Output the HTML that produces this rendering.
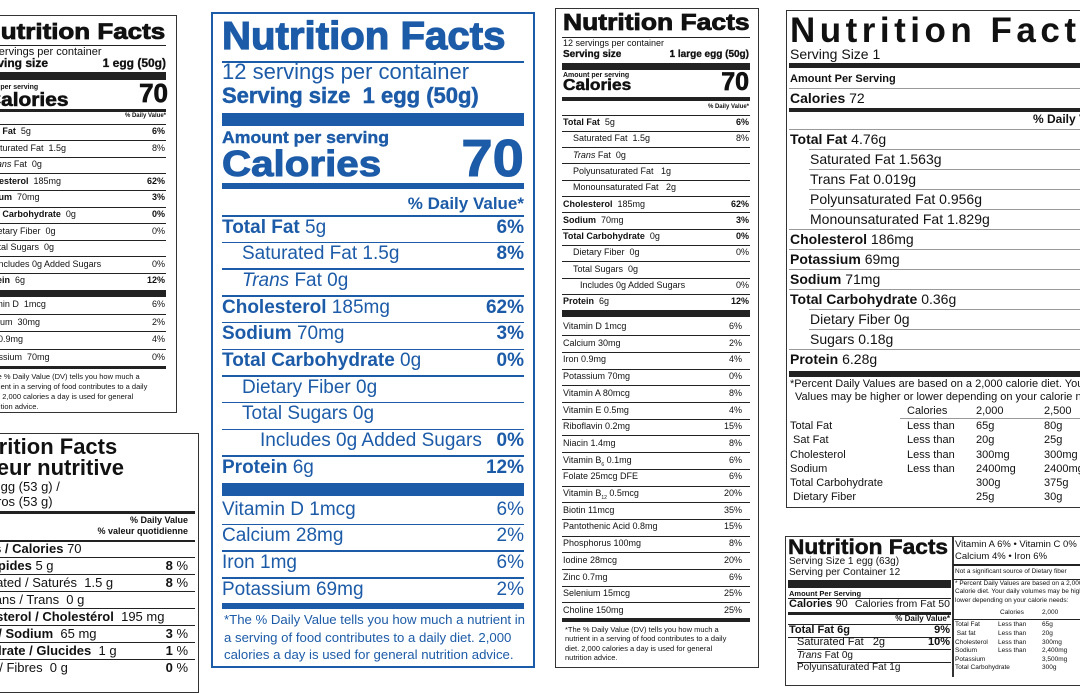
<!DOCTYPE html>
<html><head><meta charset="utf-8">
<style>
html,body{margin:0;padding:0}
body{width:1080px;height:675px;overflow:hidden;background:#fff;position:relative;font-family:"Liberation Sans",Arial,sans-serif;color:#111}
.t{position:absolute;white-space:nowrap;line-height:1}
.l{position:absolute}
.b{position:absolute;border:1.5px solid #333;box-sizing:border-box}
</style></head><body>
<div class="b" style="left:-5px;top:15px;width:182px;height:398px"></div>
<div class="b" style="left:-5px;top:433px;width:204px;height:260px"></div>
<div class="b" style="left:211px;top:12px;width:324px;height:656px;border:2.5px solid #1c5ba8"></div>
<div class="b" style="left:555px;top:8px;width:204px;height:660px"></div>
<div class="b" style="left:786px;top:10px;width:310px;height:498px"></div>
<div class="b" style="left:785px;top:536px;width:310px;height:150px"></div>
<div class="l" style="left:952px;top:537px;width:1.5px;height:140px;background:#333"></div>
<div id="c"></div>
<script>
var c=document.getElementById('c'),h='';
function T(x,y,s,sz,o){o=o||{};var st='top:'+(y-sz*0.55)+'px;font-size:'+sz+'px;';
var org='left';
if(o.r){st+='right:'+(1080-x)+'px;';org='right';}else st+='left:'+x+'px;';
if(o.b)st+='font-weight:bold;';if(o.col)st+='color:'+o.col+';';if(o.ls)st+='letter-spacing:'+o.ls+'px;';if(o.i)st+='font-style:italic;';if(o.sx)st+='transform:scaleX('+o.sx+');transform-origin:'+org+';';
if(o.hv)st+='-webkit-text-stroke:'+o.hv+'px currentColor;';
h+='<div class="t" style="'+st+'">'+s+'</div>';}
function L(x1,x2,y,th,col){h+='<div class="l" style="left:'+x1+'px;top:'+y+'px;width:'+(x2-x1)+'px;height:'+th+'px;background:'+(col||'#222')+'"></div>';}
// ===== Blue label
var B='#1c5ba8';
T(222,38,'Nutrition Facts',39,{b:1,col:B,sx:1.03,hv:1.2});
L(222,524,61,1.5,B);
T(222,73,'12 servings per container',22,{col:B});
T(222,97,'Serving size&nbsp; 1 egg (50g)',22,{b:1,col:B,hv:0.5});
L(222,524,113,13,B);
T(222,138,'Amount per serving',17,{b:1,col:B,sx:1.04,hv:0.4});
T(222,166,'Calories',36,{b:1,col:B,sx:1.12,hv:1});
T(524,162,'70',52,{b:1,col:B,r:1,sx:1.08,hv:1});
L(222,524,183,6,B);
T(524,204,'% Daily Value*',17,{b:1,col:B,r:1});
var br=[['<b>Total Fat</b> 5g','6%',0,1],['Saturated Fat 1.5g','8%',20,1],['<i>Trans</i> Fat 0g','',20,0],['<b>Cholesterol</b> 185mg','62%',0,1],['<b>Sodium</b> 70mg','3%',0,1],['<b>Total Carbohydrate</b> 0g','0%',0,1],['Dietary Fiber 0g','',20,0],['Total Sugars 0g','',20,0],['Includes 0g Added Sugars','0%',38,1],['<b>Protein</b> 6g','12%',0,1]];
br.forEach(function(r,i){var y=228+i*26.7;L(222,524,y-13,1.5,B);T(222+r[2],y,r[0],19,{col:B});if(r[1])T(524,y,r[1],19,{b:1,col:B,r:1});});
L(222,524,483,13,B);
[['Vitamin D 1mcg','6%'],['Calcium 28mg','2%'],['Iron 1mg','6%'],['Potassium 69mg','2%']].forEach(function(r,i){var y=510+i*26.7;if(i)L(222,524,y-13,1.5,B);T(222,y,r[0],19,{col:B});T(524,y,r[1],19,{col:B,r:1});});
L(222,524,603,6,B);
T(224,620,'*The % Daily Value tells you how much a nutrient in',13.2,{col:B});
T(224,638,'a serving of food contributes to a daily diet. 2,000',13.2,{col:B});
T(224,655,'calories a day is used for general nutrition advice.',13.2,{col:B});
// ===== Middle label
T(563,24,'Nutrition Facts',23,{b:1,sx:1.15,hv:0.8});
L(562,750,37,1);
T(563,44,'12 servings per container',9);
T(563,55,'Serving size',10,{b:1,hv:0.3});T(749,55,'1 large egg (50g)',10,{b:1,r:1,hv:0.3});
L(562,750,63,7);
T(563,76,'Amount per serving',7,{b:1});
T(563,87,'Calories',16,{b:1,sx:1.08,hv:0.5});T(749,84,'70',25,{b:1,r:1,hv:0.7});
L(562,750,97,3.5);
T(749,107,'% Daily Value*',6,{b:1,r:1});
var mr=[['<b>Total Fat</b>&nbsp; 5g','<b>6%</b>',0],['Saturated Fat&nbsp; 1.5g','8%',10],['<i>Trans</i> Fat&nbsp; 0g','',10],['Polyunsaturated Fat&nbsp;&nbsp; 1g','',10],['Monounsaturated Fat&nbsp;&nbsp; 2g','',10],['<b>Cholesterol</b>&nbsp; 185mg','<b>62%</b>',0],['<b>Sodium</b>&nbsp; 70mg','<b>3%</b>',0],['<b>Total Carbohydrate</b>&nbsp; 0g','<b>0%</b>',0],['Dietary Fiber&nbsp; 0g','0%',10],['Total Sugars&nbsp; 0g','',10],['Includes 0g Added Sugars','0%',17],['<b>Protein</b>&nbsp; 6g','<b>12%</b>',0]];
mr.forEach(function(r,i){var y=123+i*16.3;L(562,750,y-8.5,1);T(563+r[2],y,r[0],9);if(r[1])T(749,y,r[1],9,{r:1});});
L(562,750,310,7);
var vr=[['Vitamin D 1mcg','6%'],['Calcium 30mg','2%'],['Iron 0.9mg','4%'],['Potassium 70mg','0%'],['Vitamin A 80mcg','8%'],['Vitamin E 0.5mg','4%'],['Riboflavin 0.2mg','15%'],['Niacin 1.4mg','8%'],['Vitamin B<sub style="font-size:5px">6</sub> 0.1mg','6%'],['Folate 25mcg DFE','6%'],['Vitamin B<sub style="font-size:5px">12</sub> 0.5mcg','20%'],['Biotin 11mcg','35%'],['Pantothenic Acid 0.8mg','15%'],['Phosphorus 100mg','8%'],['Iodine 28mcg','20%'],['Zinc 0.7mg','6%'],['Selenium 15mcg','25%'],['Choline 150mg','25%']];
vr.forEach(function(r,i){var y=327+i*16.7;if(i)L(562,750,y-8.5,1);T(563,y,r[0],9);T(742,y,r[1],9,{r:1});});
L(562,750,618,4);
['*The % Daily Value (DV) tells you how much a','nutrient in a serving of food contributes to a daily','diet. 2,000 calories a day is used for general','nutrition advice.'].forEach(function(s,i){T(565,630+i*9.5,s,7.5);});
// ===== Left top
T(-18,33,'Nutrition Facts',22,{b:1,sx:1.18,hv:0.8});
L(-10,166,45,1);
T(-22,53,'12 servings per container',11);
T(-22,64,'Serving size',12,{b:1,hv:0.3});T(166,64,'1 egg (50g)',12,{b:1,r:1,hv:0.3});
L(-10,166,72,8);
T(-28,88,'Amount per serving',7,{b:1});
T(-14,101,'Calories',19,{b:1,sx:1.1,hv:0.6});T(168,94,'70',26,{b:1,r:1,hv:0.7});
L(-10,166,109,3);
T(166,116,'% Daily Value*',6,{b:1,r:1});
var lr=[['<b>Total Fat</b>&nbsp; 5g','<b>6%</b>',0],['Saturated Fat&nbsp; 1.5g','8%',10],['<i>Trans</i> Fat&nbsp; 0g','',10],['<b>Cholesterol</b>&nbsp; 185mg','<b>62%</b>',0],['<b>Sodium</b>&nbsp; 70mg','<b>3%</b>',0],['<b>Total Carbohydrate</b>&nbsp; 0g','<b>0%</b>',0],['Dietary Fiber&nbsp; 0g','0%',10],['Total Sugars&nbsp; 0g','',10],['Includes 0g Added Sugars','0%',17],['<b>Protein</b>&nbsp; 6g','<b>12%</b>',0]];
lr.forEach(function(r,i){var y=132+i*16.6;L(-10,166,y-8.5,1);T(-21+r[2],y,r[0],9);if(r[1])T(165,y,r[1],9,{r:1});});
L(-10,166,290,7);
[['Vitamin D&nbsp; 1mcg','6%'],['Calcium&nbsp; 30mg','2%'],['Iron 0.9mg','4%'],['Potassium&nbsp; 70mg','0%']].forEach(function(r,i){var y=305+i*17.5;if(i)L(-10,166,y-9,1);T(-20,y,r[0],9);T(165,y,r[1],9,{r:1});});
L(-10,166,366,3);
['*The % Daily Value (DV) tells you how much a','nutrient in a serving of food contributes to a daily','diet. 2,000 calories a day is used for general','nutrition advice.'].forEach(function(s,i){T(-14,377+i*10,s,7.5);});
// ===== Left bottom
T(-38,448,'Nutrition Facts',22,{b:1});
T(-35,469,'Valeur nutritive',22,{b:1});
T(-50,487,'1 large egg (53 g) /',13);
T(-50,502,'1 oeuf gros (53 g)',13);
L(-10,195,511,2.5);
T(188,521,'% Daily Value',9,{b:1,r:1});
T(188,532,'% valeur quotidienne',9,{b:1,r:1});
var fr=[['<b>Calories / Calories</b> 70','',-50],['<b>Fat / Lipides</b> 5 g','<b>8</b> %',-44],['Saturated / Saturés&nbsp; 1.5 g','<b>8</b> %',-35],['+ Trans / Trans&nbsp; 0 g','',-28],['<b>Cholesterol / Cholestérol</b>&nbsp; 195 mg','',-40],['<b>Sodium / Sodium</b>&nbsp; 65 mg','<b>3</b> %',-53],['<b>Carbohydrate / Glucides</b>&nbsp; 1 g','<b>1</b> %',-59],['Fibre / Fibres&nbsp; 0 g','<b>0</b> %',-34]];
fr.forEach(function(r,i){var y=549+i*17;L(-10,195,y-9,i==0?2:1);T(r[2],y,r[0],13);if(r[1])T(188,y,r[1],13,{r:1});});
// ===== Right top
T(790,32,'Nutrition Facts',35,{b:1,ls:4.5});
T(790,55,'Serving Size 1',14);
L(789,1080,63,5);
T(790,80,'Amount Per Serving',11,{b:1});
L(789,1080,88,1,'#999');
T(790,99,'<b>Calories</b> 72',14);
L(789,1080,108,4);
T(1033,120,'% Daily Value*',12,{b:1});
var rr=[['<b>Total Fat</b> 4.76g',0],['Saturated Fat 1.563g',20],['Trans Fat 0.019g',20],['Polyunsaturated Fat 0.956g',20],['Monounsaturated Fat 1.829g',20],['<b>Cholesterol</b> 186mg',0],['<b>Potassium</b> 69mg',0],['<b>Sodium</b> 71mg',0],['<b>Total Carbohydrate</b> 0.36g',0],['Dietary Fiber 0g',20],['Sugars 0.18g',20],['<b>Protein</b> 6.28g',0]];
rr.forEach(function(r,i){var y=140+i*20;L(789+(i>=1&&i<=4||i>=9&&i<=10?20:0),1080,y-11,1,'#999');T(790+r[1],y,r[0],14);});
L(789,1080,371,6);
T(790,385,'*Percent Daily Values are based on a 2,000 calorie diet. Your Daily',11);
T(795,398,'Values may be higher or lower depending on your calorie needs.',11);
T(907,412,'Calories',11);T(976,412,'2,000',11);T(1044,412,'2,500',11);
L(900,1080,418,1,'#999');
[['Total Fat','Less than','65g','80g'],['&nbsp;Sat Fat','Less than','20g','25g'],['Cholesterol','Less than','300mg','300mg'],['Sodium','Less than','2400mg','2400mg'],['Total Carbohydrate','','300g','375g'],['&nbsp;Dietary Fiber','','25g','30g']].forEach(function(r,i){var y=427+i*14.3;T(790,y,r[0],11);T(907,y,r[1],11);T(976,y,r[2],11);T(1044,y,r[3],11);});
// ===== Right bottom
T(788,549,'Nutrition Facts',21,{b:1,sx:1.08,hv:0.5});
T(789,562,'Serving Size 1 egg (63g)',10);
T(789,573,'Serving per Container 12',10);
L(788,951,580,8);
T(789,594,'Amount Per Serving',7.5,{b:1});
L(788,951,598,1);
T(789,605,'<b>Calories</b> 90',11);T(950,605,'Calories from Fat 50',10.5,{r:1});
L(788,951,612,3);
T(950,619,'% Daily Value*',8,{b:1,r:1});
L(788,951,624,1);
T(789,631,'<b>Total Fat 6g</b>',11);T(950,631,'<b>9%</b>',11,{r:1});
L(788,951,637,1);
T(797,643,'Saturated Fat&nbsp;&nbsp; 2g',11);T(950,643,'<b>10%</b>',11,{r:1});
L(797,951,649,1);
T(797,656,'<i>Trans</i> Fat 0g',10);
L(797,951,662,1);
T(797,668,'Polyunsaturated Fat 1g',10);
T(955,545,'Vitamin A 6% • Vitamin C 0%',9.5);
T(955,557,'Calcium 4% • Iron 6%',9.5);
L(953,1080,564,1.5);
T(955,573,'Not a significant source of Dietary fiber',6.5);
L(953,1080,579,1);
T(955,585,'* Percent Daily Values are based on a 2,000',6.5);
T(955,593,'Calorie diet. Your daily volumes may be higher or',6.5);
T(955,602,'lower depending on your calorie needs:',6.5);
T(1000,614,'Calories',6.5);T(1042,614,'2,000',6.5);
L(953,1080,619,1);
[['Total Fat','Less than','65g'],['&nbsp;Sat fat','Less than','20g'],['Cholesterol','Less than','300mg'],['Sodium','Less than','2,400mg'],['Potassium','','3,500mg'],['Total Carbohydrate','','300g']].forEach(function(r,i){var y=626+i*8.6;T(955,y,r[0],6.5);T(998,y,r[1],6.5);T(1042,y,r[2],6.5);});
c.innerHTML=h;
</script>
</body></html>
